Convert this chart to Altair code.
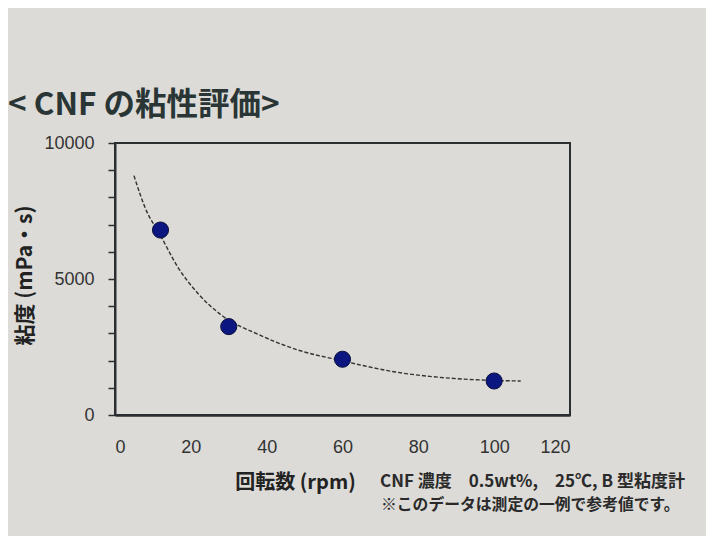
import altair as alt
import pandas as pd

# measured points (rpm, viscosity mPa·s)
rpm = [12, 30, 60, 100]
viscosity = [6800, 3250, 2050, 1250]

# dashed trend curve
curve_x = [5, 8, 12, 16.5, 22, 28, 38, 48, 60, 66, 74, 83, 92, 100, 107]
curve_y = [8800, 7600, 6600, 5450, 4450, 3680, 2950, 2400, 1990, 1800, 1580, 1420, 1320, 1270, 1250]

x_ticks = [0, 20, 40, 60, 80, 100, 120]
y_ticks = [0, 1000, 2000, 3000, 4000, 5000, 6000, 7000, 8000, 9000, 10000]

title_text = "< CNF の粘性評価>"
x_title = "回転数 (rpm)"
y_title = "粘度 (mPa・s)"
note1 = "CNF 濃度　0.5wt%,　25℃,  B 型粘度計"
note2 = "※このデータは測定の一例で参考値です。"

pts = pd.DataFrame({"rpm": rpm, "v": viscosity})
crv = pd.DataFrame({"rpm": curve_x, "v": curve_y})

JP = "Noto Sans CJK JP"
NUM = "Liberation Sans"
INK = "#2b2f30"

xscale = alt.Scale(domain=[0, 120], nice=False)
yscale = alt.Scale(domain=[0, 10000], nice=False)

xaxis = alt.Axis(
    values=x_ticks, ticks=False, grid=False, title=x_title, labelOverlap=False,
    labelFont=NUM, labelFontSize=18, labelColor="#333", labelPadding=23,
    titleFont=JP, titleFontSize=20, titleFontWeight="bold", titleColor="#222",
    titleX=180, titleY=67, titleBaseline="middle", titleAnchor="middle",
    domainColor=INK, domainWidth=2.5,
)
yaxis = alt.Axis(
    values=y_ticks, format="d", grid=False, title=y_title, labelOverlap=False,
    labelExpr="datum.value % 5000 == 0 ? datum.label : ''",
    labelFont=NUM, labelFontSize=18, labelColor="#333", labelPadding=14,
    tickSize=7, tickColor=INK, tickWidth=1.5,
    titleFont=JP, titleFontSize=21, titleFontWeight="bold", titleColor="#222",
    titleX=-90, titleY=132, titleAngle=-90, titleBaseline="middle", titleAnchor="middle",
    domainColor=INK, domainWidth=2,
)

line = alt.Chart(crv).mark_line(
    color="#333", strokeWidth=1.4, strokeDash=[4, 2], interpolate="monotone"
).encode(
    x=alt.X("rpm:Q", scale=xscale, axis=xaxis),
    y=alt.Y("v:Q", scale=yscale, axis=yaxis),
)

points = alt.Chart(pts).mark_point(
    filled=True, size=260, color="#0c1680", opacity=1, stroke="#0a0f3a", strokeWidth=1
).encode(
    x=alt.X("rpm:Q", scale=xscale, axis=xaxis),
    y=alt.Y("v:Q", scale=yscale, axis=yaxis),
)

one = alt.InlineData(values=[{"a": 1}])

title = alt.Chart(one).mark_text(
    text=title_text, x=-107, y=-37, align="left", baseline="middle",
    font=JP, fontSize=31.5, fontWeight="bold", color="#2a3535",
)
n1 = alt.Chart(one).mark_text(
    text=note1, x=265, y=339, align="left", baseline="middle",
    font=JP, fontSize=17, fontWeight="bold", color="#2a2a2a",
)
n2 = alt.Chart(one).mark_text(
    text=note2, x=266, y=362, align="left", baseline="middle",
    font=JP, fontSize=15.8, fontWeight="bold", color="#2a2a2a",
)

chart = alt.layer(line, points, title, n1, n2).properties(
    width=455, height=272,
    autosize=alt.AutoSizeParams(type="none"),
    padding={"left": 107, "top": 135, "right": 136, "bottom": 121},
    background="#dcdbd7",
).configure_view(stroke=INK, strokeWidth=2)

chart.save("out.html", embed_options={"renderer": "svg", "actions": False})
